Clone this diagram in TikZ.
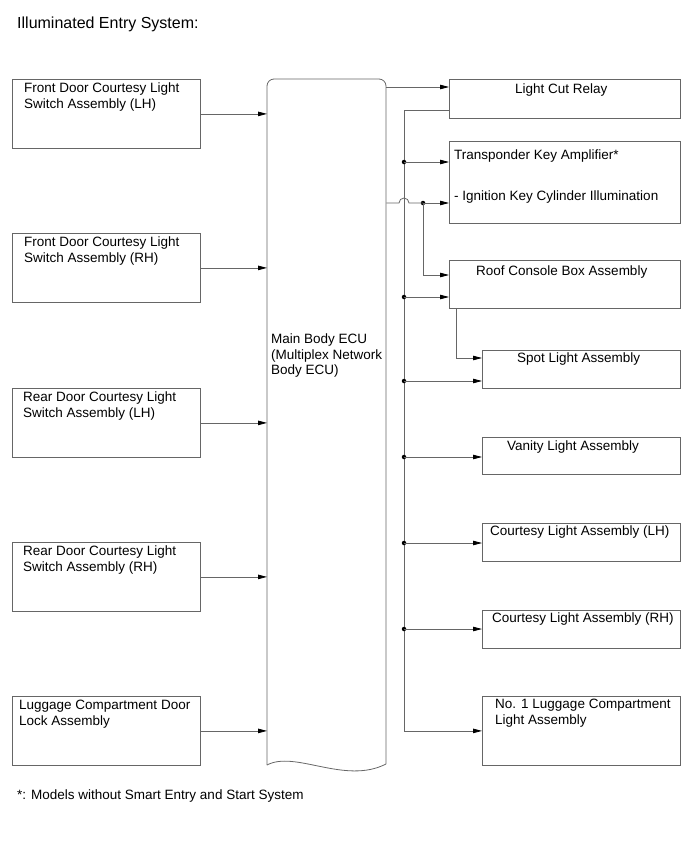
\documentclass[tikz,border=0pt]{standalone}
\usepackage{fontspec}
\setmainfont{Liberation Sans}
\usetikzlibrary{arrows.meta,calc}
\begin{document}
\begin{tikzpicture}[x=1pt,y=-1pt,
  ln/.style={draw=black!60,line width=0.8pt},
  arr/.style={ln,-{Triangle[length=9pt,width=4.5pt,fill=black,color=black]}},
  box/.style={ln,rectangle,inner sep=0,anchor=north west},
  lbox/.style={box,minimum width=188pt,minimum height=69pt},
  rbox/.style={box,minimum width=198pt},
  txt/.style={inner sep=0,anchor=north west,align=left,font=\fontsize{13.5}{15.5}\selectfont},
  dot/.style={circle,fill=black,inner sep=0,minimum size=4.5pt}]
\useasboundingbox (0,0) rectangle (691,854);

% title and footnote
\node[inner sep=0,anchor=north west,font=\fontsize{16}{18}\selectfont] (title) at (17,16.5) {Illuminated Entry System:};
\node[txt] (foot) at (17,790) {*: Models without Smart Entry and Start System};

% left boxes
\node[lbox] (l1) at (12,79) {};
\node[lbox] (l2) at (12,233) {};
\node[lbox] (l3) at (12,388) {};
\node[lbox] (l4) at (12,542) {};
\node[lbox] (l5) at (12,696) {};
\node[txt] (tl1) at (24,83) {Front Door Courtesy Light\\Switch Assembly (LH)};
\node[txt] (tl2) at (24,237) {Front Door Courtesy Light\\Switch Assembly (RH)};
\node[txt] (tl3) at (23,392) {Rear Door Courtesy Light\\Switch Assembly (LH)};
\node[txt] (tl4) at (23,546) {Rear Door Courtesy Light\\Switch Assembly (RH)};
\node[txt] (tl5) at (19,700) {Luggage Compartment Door\\Lock Assembly};

% ECU
\node[inner sep=0,minimum width=119pt,minimum height=686pt,anchor=north west] (ecu) at (267,79) {};
\draw[ln,rounded corners=7pt] (267,765) -- (267,79) -- (386,79) -- (386,764);
\draw[ln] (267,765) .. controls (295,750) and (345,785) .. (386,764);
\node[txt] (tecu) at (271,334) {Main Body ECU\\(Multiplex Network\\Body ECU)};

% right boxes
\node[box,minimum width=231pt,minimum height=39pt] (lcr) at (449,79) {};
\node[box,minimum width=231pt,minimum height=82pt] (tr) at (449,141) {};
\node[box,minimum width=231pt,minimum height=48pt] (roof) at (449,260) {};
\node[rbox,minimum height=38pt] (spot) at (482,350) {};
\node[rbox,minimum height=37pt] (van) at (482,437) {};
\node[rbox,minimum height=38pt] (clh) at (482,523) {};
\node[rbox,minimum height=38pt] (crh) at (482,610) {};
\node[rbox,minimum height=69pt] (lug) at (482,696) {};

\node[txt] (tlcr) at (515,84) {Light Cut Relay};
\node[txt] (ttr1) at (454,150) {Transponder Key Amplifier*};
\node[txt] (ttr2) at (454,191) {- Ignition Key Cylinder Illumination};
\node[txt] (troof) at (476,266) {Roof Console Box Assembly};
\node[txt] (tspot) at (517,353) {Spot Light Assembly};
\node[txt] (tvan) at (507,441) {Vanity Light Assembly};
\node[txt] (tclh) at (490,526) {Courtesy Light Assembly (LH)};
\node[txt] (tcrh) at (492,613) {Courtesy Light Assembly (RH)};
\node[txt] (tlug) at (495,699) {No. 1 Luggage Compartment\\Light Assembly};

% inputs to ECU
\foreach \b in {l1,l2,l3,l4,l5}
  \draw[arr] (\b.east) -- (\b.east -| ecu.west);

% ECU to light cut relay
\coordinate (lcrin) at ($(lcr.north west)+(0,8)$);
\draw[arr] (lcrin -| ecu.east) -- (lcrin);

% bus from light cut relay
\coordinate (lcrout) at ($(lcr.south west)+(0,-8)$);
\coordinate (busx) at (404,0);
\draw[arr] (lcrout) -| (busx |- lug.west) -- (lug.west);

% bus branches
\node[dot] (d1) at (404,162) {};
\node[dot] (d2) at (404,297) {};
\node[dot] (d3) at (404,381) {};
\node[dot] (d4) at (404,457) {};
\node[dot] (d5) at (404,543) {};
\node[dot] (d6) at (404,629) {};
\draw[arr] (d1.center) -- (d1 -| tr.west);
\draw[arr] (d2.center) -- (d2 -| roof.west);
\draw[arr] (d3.center) -- (d3 -| spot.west);
\draw[arr] (d4.center) -- (d4 -| van.west);
\draw[arr] (d5.center) -- (d5 -| clh.west);
\draw[arr] (d6.center) -- (d6 -| crh.west);

% second ECU output with jump over bus
\node[dot] (dj) at (423,203) {};
\coordinate (e2) at (ecu.east |- dj);
\draw[ln] (e2) -- (399,203) arc[start angle=180,end angle=0,radius=5pt] -- (dj.center);
\draw[arr] (dj.center) -- (dj -| tr.west);
\coordinate (roofin) at ($(roof.north west)+(0,15)$);
\draw[arr] (dj.center) |- (roofin);

% roof console to spot light
\coordinate (roofout) at ($(roof.south west)+(7,0)$);
\coordinate (spotin) at ($(spot.north west)+(0,8)$);
\draw[arr] (roofout) |- (spotin);
\end{tikzpicture}
\end{document}
